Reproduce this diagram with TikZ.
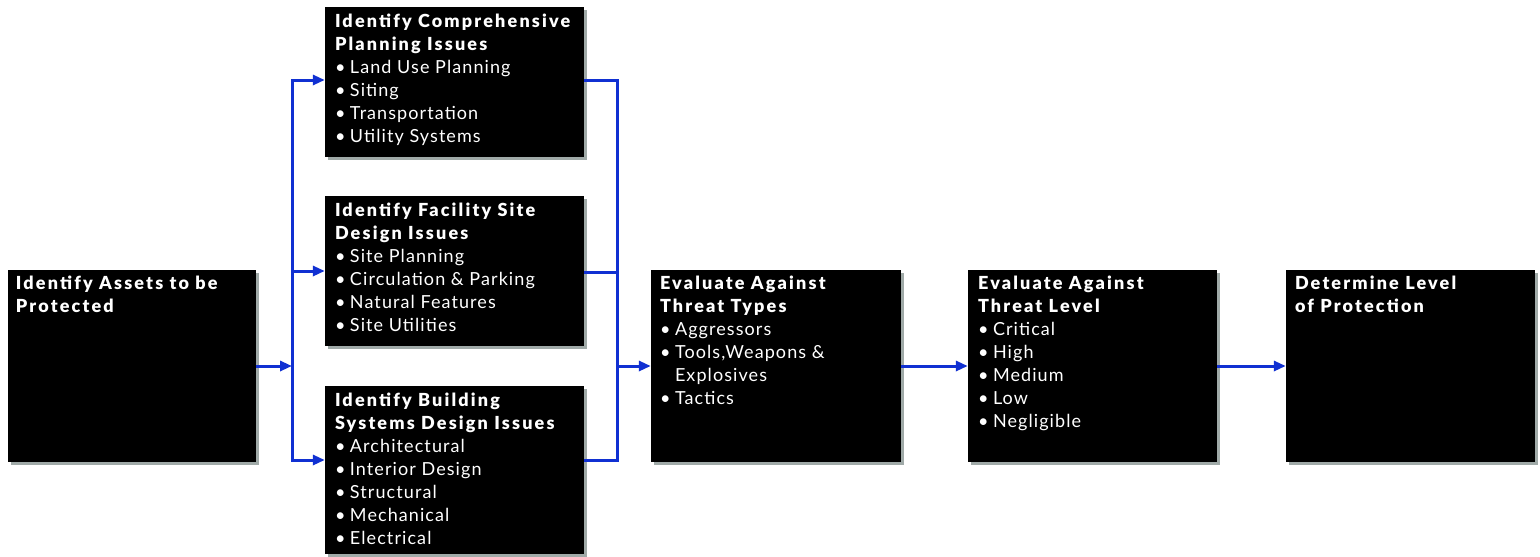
\documentclass[tikz,border=0pt]{standalone}
\usepackage{fontspec}
\setmainfont{Lato}[LetterSpace=6, BoldFont={Lato Black}, BoldFeatures={LetterSpace=12}]
\usetikzlibrary{arrows.meta,shadows}
\definecolor{flowblue}{RGB}{16,48,210}
\definecolor{shadowgray}{RGB}{160,170,168}
\newcommand{\bul}[1]{\makebox[15pt][l]{•}#1}
\newcommand{\hangln}[1]{\hspace*{15pt}#1}
\newcommand{\boxtext}[1]{\begin{minipage}[t]{260pt}\fontsize{18}{23}\selectfont\raggedright #1\end{minipage}}
\begin{document}
\begin{tikzpicture}[x=1pt,y=-1pt,
  box/.style={draw=none, fill=black, inner sep=0pt,
    drop shadow={shadow xshift=3pt, shadow yshift=-3pt, fill=shadowgray, opacity=1}},
  lbl/.style={anchor=base west, inner sep=0pt, text=white},
  link/.style={draw=flowblue, line width=3pt},
  arr/.style={link, -{Triangle[length=12pt,width=10pt]}}]
\useasboundingbox (0,0) rectangle (1540,557);
% boxes
\node[box, minimum width=248pt, minimum height=192pt] (A) at (132,366) {};
\node[box, minimum width=259pt, minimum height=150pt] (B) at (454.5,82) {};
\node[box, minimum width=259pt, minimum height=150pt] (C) at (454.5,271) {};
\node[box, minimum width=259pt, minimum height=168pt] (D) at (454.5,470) {};
\node[box, minimum width=250pt, minimum height=192pt] (E) at (776,366) {};
\node[box, minimum width=249pt, minimum height=192pt] (F) at (1092.5,366) {};
\node[box, minimum width=249pt, minimum height=192pt] (G) at (1410.5,366) {};
% texts
\node[lbl] (At) at ([xshift=8pt,yshift=-20pt]A.north west)
  {\boxtext{\textbf{Identify Assets to be}\\\textbf{Protected}}};
\node[lbl] (Bt) at ([xshift=10pt,yshift=-21pt]B.north west)
  {\boxtext{\textbf{Identify Comprehensive}\\\textbf{Planning Issues}\\
   \bul{Land Use Planning}\\\bul{Siting}\\\bul{Transportation}\\\bul{Utility Systems}}};
\node[lbl] (Ct) at ([xshift=10pt,yshift=-21pt]C.north west)
  {\boxtext{\textbf{Identify Facility Site}\\\textbf{Design Issues}\\
   \bul{Site Planning}\\\bul{Circulation \& Parking}\\\bul{Natural Features}\\\bul{Site Utilities}}};
\node[lbl] (Dt) at ([xshift=10pt,yshift=-21pt]D.north west)
  {\boxtext{\textbf{Identify Building}\\\textbf{Systems Design Issues}\\
   \bul{Architectural}\\\bul{Interior Design}\\\bul{Structural}\\\bul{Mechanical}\\\bul{Electrical}}};
\node[lbl] (Et) at ([xshift=9pt,yshift=-20pt]E.north west)
  {\boxtext{\textbf{Evaluate Against}\\\textbf{Threat Types}\\
   \bul{Aggressors}\\\bul{Tools,Weapons \&}\\\hangln{Explosives}\\\bul{Tactics}}};
\node[lbl] (Ft) at ([xshift=10pt,yshift=-20pt]F.north west)
  {\boxtext{\textbf{Evaluate Against}\\\textbf{Threat Level}\\
   \bul{Critical}\\\bul{High}\\\bul{Medium}\\\bul{Low}\\\bul{Negligible}}};
\node[lbl] (Gt) at ([xshift=9pt,yshift=-20pt]G.north west)
  {\boxtext{\textbf{Determine Level}\\\textbf{of Protection}}};
% bus coordinates
\coordinate (LT) at (292,80);
\coordinate (LM) at (292,271);
\coordinate (LJ) at (292,366);
\coordinate (LBot) at (292,460);
\coordinate (RT) at (617,80);
\coordinate (RM) at (617,272);
\coordinate (RJ) at (617,366);
\coordinate (RBot) at (617,460);
% connectors
\draw[arr] (A.east) -- (LJ);
\draw[arr] (LBot) -- (LT) -- (LT -| B.west);
\draw[arr] (LT) -- (LBot) -- (LBot -| D.west);
\draw[arr] (LM) -- (LM -| C.west);
\draw[link] (RT -| B.east) -- (RT) -- (RBot) -- (RBot -| D.east);
\draw[link] (RM -| C.east) -- (RM);
\draw[arr] (RJ) -- (RJ -| E.west);
\draw[arr] (E.east) -- (F.west);
\draw[arr] (F.east) -- (G.west);
\end{tikzpicture}
\end{document}
